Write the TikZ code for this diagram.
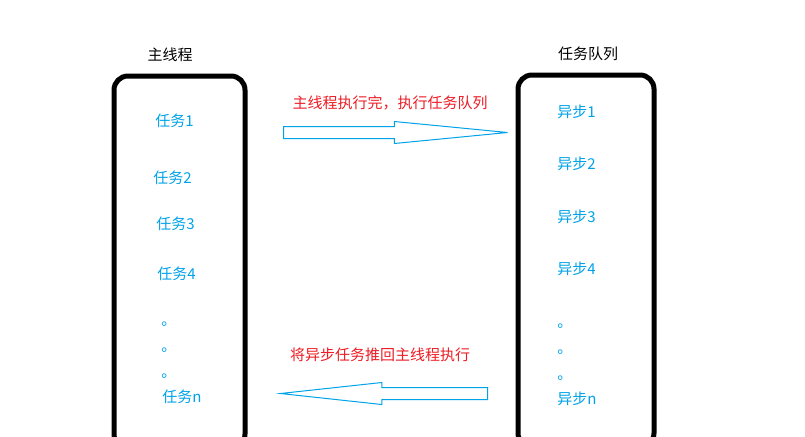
\documentclass[tikz,border=0pt]{standalone}
\usepackage{fontspec}
\setmainfont{Noto Sans CJK SC}
\usepackage{xcolor}
\usepackage{tikz}
\usetikzlibrary{shapes.arrows}

\definecolor{taskblue}{RGB}{0,162,232}
\definecolor{notered}{RGB}{237,28,36}

\begin{document}
\begin{tikzpicture}[x=0.75pt,y=-0.75pt,
		every node/.style={font=\fontsize{11.25}{13}\selectfont, inner sep=0pt},
		lane/.style={draw, line width=3.75pt, rounded corners=10.5pt, minimum width=#1, minimum height=279pt},
		item/.style={text=taskblue, anchor=west},
		dot/.style={text=taskblue, anchor=base west},
		note/.style={text=notered},
		bigarrow/.style={single arrow, draw=taskblue, line width=0.75pt, inner xsep=0pt, inner ysep=4.125pt, single arrow head extend=3.75pt, anchor=tail}]
	\useasboundingbox (0,0) rectangle (805,436);
	\clip (0,0) rectangle (805,436);
	\node[lane=98.25pt] (main) at (179.5,262) {};
	\node[lane=102pt] (queue) at (586,261) {};
	\node (mainTitle) at (170,55) {主线程};
	\node (queueTitle) at (588,54) {任务队列};
	
	\node[item] (task1) at (155,121) {任务1};
	\node[item] (task2) at (153,178) {任务2};
	\node[item] (task3) at (156,224) {任务3};
	\node[item] (task4) at (157,274) {任务4};
	\node[dot] (taskDot1) at (161,325.5) {。};
	\node[dot] (taskDot2) at (161,351.5) {。};
	\node[dot] (taskDot3) at (161,377.5) {。};
	\node[item] (taskN) at (162,397) {任务n};
	
	\node[item] (async1) at (557,112) {异步1};
	\node[item] (async2) at (557,164) {异步2};
	\node[item] (async3) at (557,217) {异步3};
	\node[item] (async4) at (557,269) {异步4};
	\node[dot] (asyncDot1) at (557,327.5) {。};
	\node[dot] (asyncDot2) at (557,353.5) {。};
	\node[dot] (asyncDot3) at (557,379.5) {。};
	\node[item] (asyncN) at (557,399) {异步n};
	
	\node[note] (runNote) at (390,103) {主线程执行完，执行任务队列};
	\node[bigarrow, minimum height=168pt, single arrow tip angle=11.1] (toQueue) at (283,132.5) {};
	\node[note] (backNote) at (380,355) {将异步任务推回主线程执行};
	\node[bigarrow, minimum height=155.25pt, single arrow tip angle=12.4, shape border rotate=180] (toMain) at (488,393.5) {};
\end{tikzpicture}
\end{document}
